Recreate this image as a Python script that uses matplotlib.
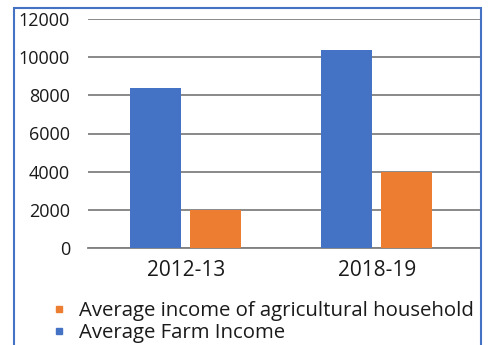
import matplotlib.pyplot as plt
from matplotlib.patches import Rectangle
from matplotlib.lines import Line2D
import numpy as np

plt.rcParams['font.family'] = ['Open Sans', 'DejaVu Sans']

# dados
anos = ['2012-13', '2018-19']
renda_agricola = [8400, 10400]      # Average Farm Income
renda_domicilio = [2000, 4000]      # Average income of agricultural household
y_ticks = [0, 2000, 4000, 6000, 8000, 10000, 12000]

azul = '#4472C4'
laranja = '#ED7D31'

fig = plt.figure(figsize=(4.89, 3.45), dpi=100)
ax = fig.add_axes([88/489, 1 - 248/345, (480-88)/489, (248-19)/345])

x = np.arange(len(anos))
larg = 0.267
ax.bar(x - 0.157, renda_agricola, larg, color=azul, zorder=3)
ax.bar(x + 0.157, renda_domicilio, larg, color=laranja, zorder=3)

ax.set_xlim(-0.513, 1.54)
ax.set_ylim(0, 12000)
ax.set_yticks(y_ticks)
ax.set_xticks(x)
ax.set_xticklabels(anos)
ax.yaxis.grid(True, color='#808080', linewidth=1.3, zorder=0)
for s in ['top', 'right', 'left']:
    ax.spines[s].set_visible(False)
ax.spines['bottom'].set_color('#808080')
ax.spines['bottom'].set_linewidth(1.3)
ax.tick_params(axis='both', length=0, colors='#1a1a1a')
ax.tick_params(axis='y', pad=13, labelsize=13)
ax.tick_params(axis='x', pad=9, labelsize=15)

handles = [Line2D([], [], marker='s', ls='', color=laranja, markersize=4),
           Line2D([], [], marker='s', ls='', color=azul, markersize=4)]
labels = ['Average income of agricultural household', 'Average Farm Income']
leg = fig.legend(handles, labels, loc='upper left', bbox_to_anchor=(49/489, 1 - 301/345),
                 frameon=False, fontsize=14.7, handlelength=1.0,
                 handletextpad=0.45, labelspacing=0.1, borderpad=0, borderaxespad=0)
for t in leg.get_texts():
    t.set_color('#1a1a1a')

fig.patches.append(Rectangle((14/489, -0.1), (481-14)/489, 1.1 - 8/345,
                             transform=fig.transFigure, fill=False,
                             edgecolor=azul, linewidth=1.5))

fig.savefig('out.png', dpi=100)
